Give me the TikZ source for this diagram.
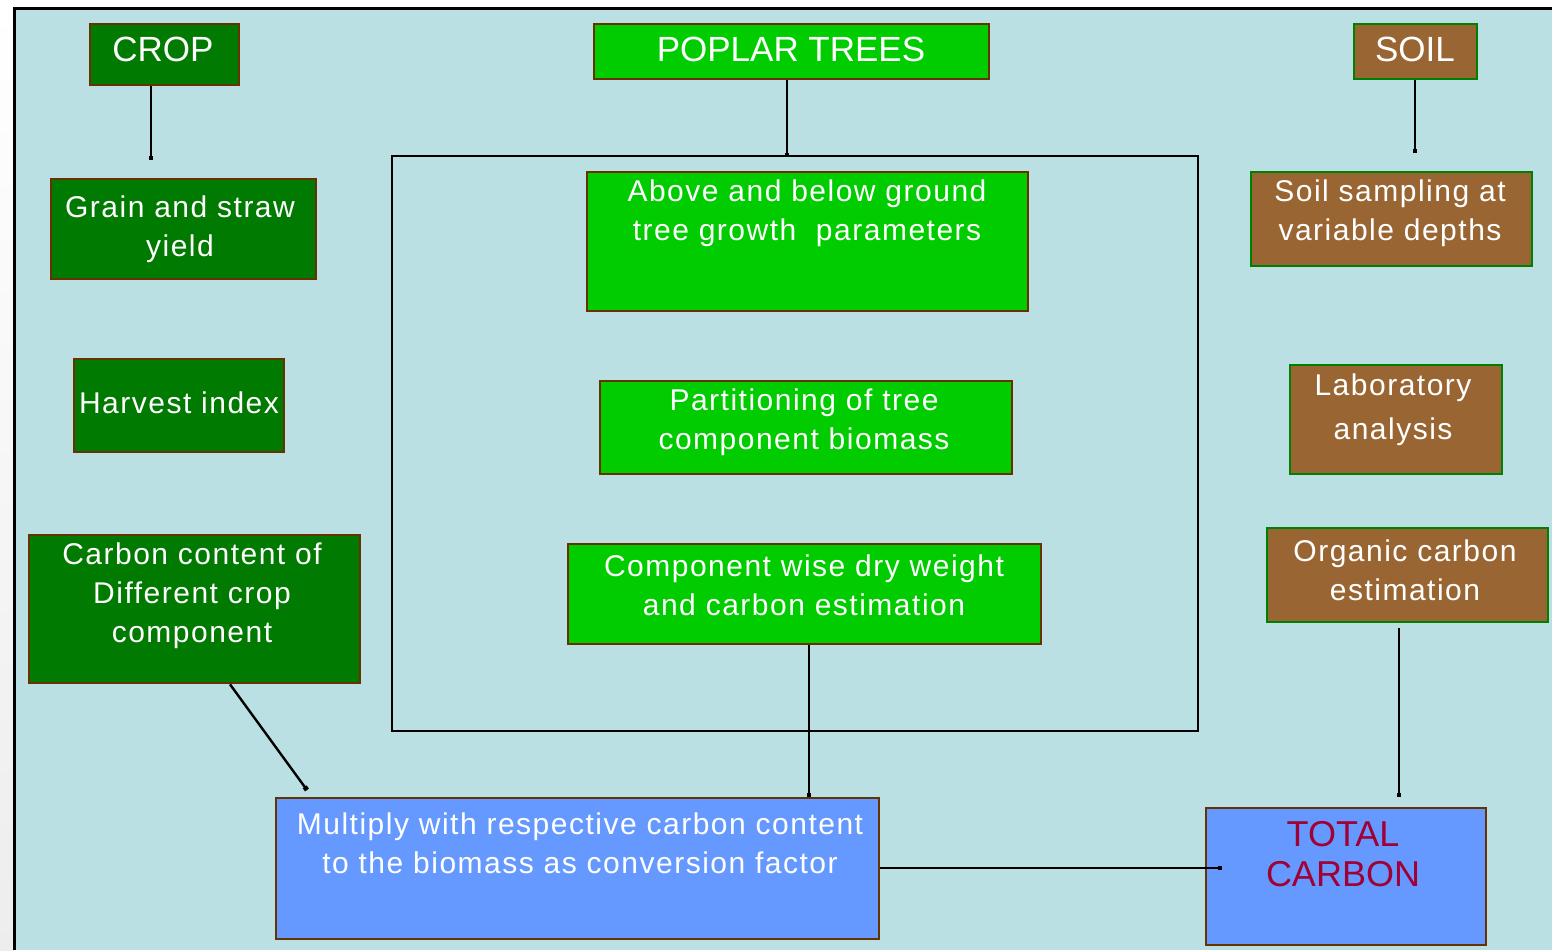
\documentclass[tikz,border=0pt]{standalone}
\usepackage{fontspec}
\setmainfont{Liberation Sans}
\usetikzlibrary{arrows.meta}
\definecolor{bgblue}{HTML}{BBE0E3}
\definecolor{darkgr}{HTML}{007A00}
\definecolor{brightgr}{HTML}{00CC00}
\definecolor{soilbr}{HTML}{996633}
\definecolor{edgebr}{HTML}{663300}
\definecolor{edgegr}{HTML}{008000}
\definecolor{multblue}{HTML}{6699FF}
\definecolor{totred}{HTML}{A00033}
\newcommand\mkbox[6]{%
  \node[#6, minimum width={(#4-#2)*0.5pt}, minimum height={(#5-#3)*0.5pt}] (#1) at ({(#2+#4)/2},{(#3+#5)/2}) {};}
\tikzset{
  anybox/.style={rectangle, line width=1.3pt, inner sep=0pt},
  cropbox/.style={anybox, draw=edgebr, fill=darkgr},
  treebox/.style={anybox, draw=edgebr, fill=brightgr},
  soilbox/.style={anybox, draw=edgegr, fill=soilbr},
  bluebox/.style={anybox, draw=edgebr, fill=multblue},
  txt/.style={text=white, align=center, inner sep=0pt,
    font=\fontsize{15}{19.5}\selectfont\addfontfeature{LetterSpace=5}},
  headtxt/.style={text=white, align=center, inner sep=0pt,
    font=\fontsize{17.5}{21}\selectfont},
  conn/.style={draw=black, line width=1.2pt, -{Square[length=2pt,width=2.4pt]}}
}
\begin{document}
\begin{tikzpicture}[x=0.5pt,y=-0.5pt]
\useasboundingbox (0,0) rectangle (1552,950);
% background
\shade[top color=white, bottom color=black!7] (0,0) rectangle (14,950);
\fill[white] (14,0) rectangle (1552,8);
\fill[bgblue] (14,8) rectangle (1552,950);
\draw[line width=1.5pt] (14,950) -- (14,8) -- (1552,8);

% frame around tree steps
\mkbox{frame}{392}{156}{1198}{731}{rectangle, draw=black, line width=1.3pt, inner sep=0pt}

% heads
\mkbox{crop}{90}{24}{239}{85}{cropbox}
\mkbox{poplar}{594}{24}{989}{79}{treebox}
\mkbox{soil}{1354}{24}{1477}{79}{soilbox}
\node[headtxt] (crop-t) at (163,49) {CROP};
\node[headtxt] (poplar-t) at (791,49) {POPLAR TREES};
\node[headtxt] (soil-t) at (1415,49) {SOIL};

% crop column
\mkbox{grain}{51}{179}{316}{279}{cropbox}
\mkbox{harvest}{74}{359}{284}{452}{cropbox}
\mkbox{carbon}{29}{535}{360}{683}{cropbox}
\node[txt] (grain-t) at (180,229) {Grain and straw\\yield};
\node[txt] (harvest-t) at (179,403) {Harvest index};
\node[txt] (carbon-t) at (192,596) {Carbon content of\\Different crop\\component};

% tree column
\mkbox{above}{587}{172}{1028}{311}{treebox}
\mkbox{part}{600}{381}{1012}{474}{treebox}
\mkbox{comp}{568}{544}{1041}{644}{treebox}
\node[txt] (above-t) at (807,213) {Above and below ground\\tree growth\ \ parameters};
\node[txt] (part-t) at (804,422) {Partitioning of tree\\component biomass};
\node[txt] (comp-t) at (804,585) {Component wise dry weight\\and carbon estimation};

% soil column
\mkbox{samp}{1251}{172}{1532}{266}{soilbox}
\mkbox{lab}{1290}{365}{1502}{474}{soilbox}
\mkbox{org}{1267}{528}{1548}{622}{soilbox}
\node[txt] (samp-t) at (1390,213) {Soil sampling at\\variable depths};
\node[txt, font=\fontsize{15}{22}\selectfont\addfontfeature{LetterSpace=5}] (lab-t) at (1393,410) {Laboratory\\analysis};
\node[txt] (org-t) at (1405,570) {Organic carbon\\estimation};

% bottom
\mkbox{mult}{276}{798}{879}{939}{bluebox}
\mkbox{total}{1206}{808}{1486}{945}{bluebox}
\node[txt] (mult-t) at (580,843) {Multiply with respective carbon content\\to the biomass as conversion factor};
\node[align=center, inner sep=0pt, text=totred, font=\fontsize{18}{20}\selectfont] (total-t) at (1343,854) {TOTAL\\CARBON};

% connector end points
\coordinate (c1) at (151,160);
\coordinate (p1) at (787,157);
\coordinate (s1) at (1415,153);
\coordinate (k0) at (230,0);
\coordinate (k1) at (307,790);
\coordinate (m0) at (809,797);
\coordinate (o1) at (1399,628);
\coordinate (o2) at (1399,797);
\coordinate (t1) at (1222,868);

\draw[conn] (crop.south -| c1) -- (c1);
\draw[conn] (poplar.south -| p1) -- (p1);
\draw[conn] (soil.south -| s1) -- (s1);
\draw[conn] (carbon.south -| k0) -- (k1);
\draw[conn] (comp.south -| m0) -- (m0);
\draw[conn] (o1) -- (o2);
\draw[conn] (mult.east |- t1) -- (t1);
\end{tikzpicture}
\end{document}
